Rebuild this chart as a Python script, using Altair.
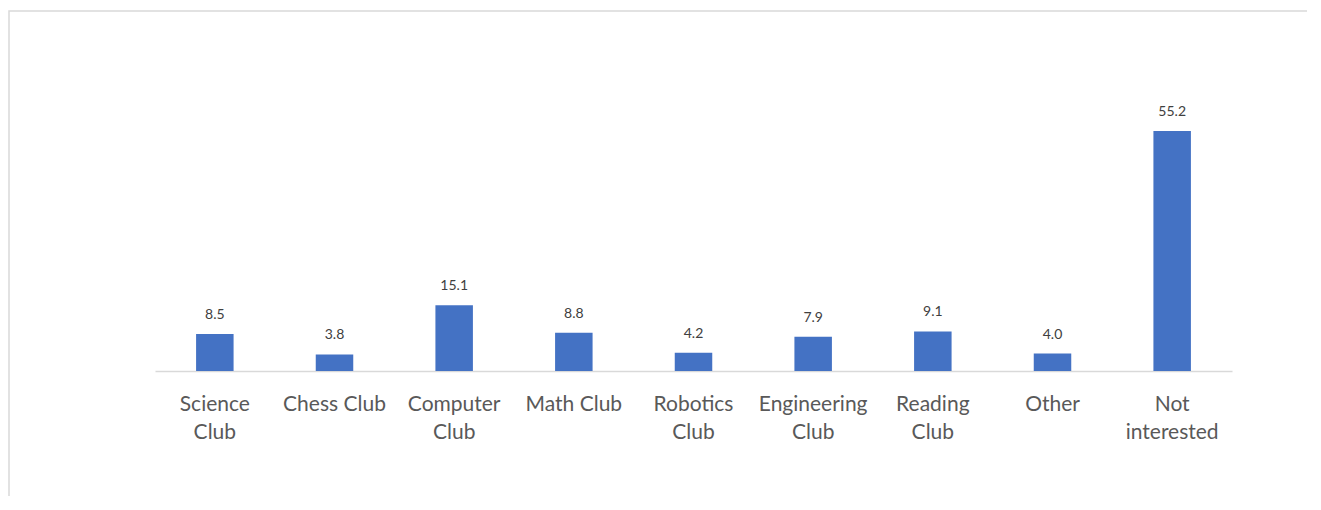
import altair as alt
import pandas as pd

categories = ["Science\nClub", "Chess Club", "Computer\nClub", "Math Club", "Robotics\nClub",
              "Engineering\nClub", "Reading\nClub", "Other", "Not\ninterested"]
values = [8.5, 3.8, 15.1, 8.8, 4.2, 7.9, 9.1, 4.0, 55.2]

df = pd.DataFrame({"category": categories, "value": values})
df["label"] = df["value"].map(lambda v: f"{v:.1f}")

FONT = "Lato"

x_enc = alt.X("category:N", sort=None, title=None,
              scale=alt.Scale(paddingInner=0, paddingOuter=0),
              axis=alt.Axis(labelExpr="split(datum.value, '\\n')", labelAngle=0,
                            labelFont=FONT, labelFontSize=21, labelColor="#595959",
                            labelPadding=22, labelLineHeight=28.5, ticks=False,
                            domainColor="#d9d9d9", domainWidth=1.3, grid=False))
y_enc = alt.Y("value:Q", title=None, scale=alt.Scale(domain=[0, 60], nice=False),
              axis=None)

bars = alt.Chart(df).mark_bar(color="#4472C4", size=37.5).encode(x=x_enc, y=y_enc)
labels = alt.Chart(df).mark_text(font=FONT, fontSize=14, color="#404040",
                                 baseline="alphabetic", dy=-15).encode(
    x=alt.X("category:N", sort=None), y="value:Q", text="label:N")

border = alt.Chart(pd.DataFrame({"a": [0]})).mark_rect(
    fill=None, stroke="#d9d9d9", strokeWidth=1.5).encode(
    x=alt.value(-146), x2=alt.value(1400), y=alt.value(-99), y2=alt.value(600))

chart = alt.layer(border, bars, labels).properties(
    width=1077, height=261,
    background="white",
    autosize=alt.AutoSizeParams(type="none"),
    padding={"left": 147, "top": 102, "right": 75, "bottom": 125},
).configure_view(strokeWidth=0, stroke=None)

chart.save("out.html", embed_options={"renderer": "svg", "actions": False})
